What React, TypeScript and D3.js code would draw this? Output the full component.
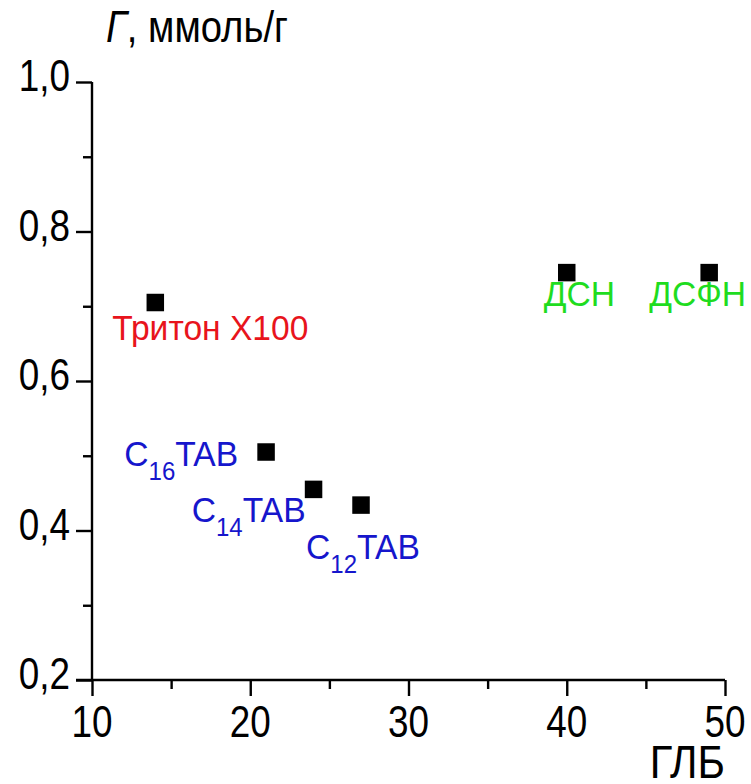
import React, { useEffect, useRef } from "react";
import * as d3 from "d3";

// HLB values and adsorption (mmol/g)
const names = ["Тритон X100", "C16TAB", "C14TAB", "C12TAB", "ДСН", "ДСФН"];
const hlb = [14, 21, 24, 27, 40, 49];
const gamma = [0.705, 0.505, 0.455, 0.434, 0.745, 0.745];
const groups = ["red", "blue", "blue", "blue", "green", "green"];
const xTicks = [10, 20, 30, 40, 50];
const yTicks = [0.2, 0.4, 0.6, 0.8, 1.0];

const colors = { red: "#e8141c", blue: "#1616cc", green: "#1fdc1f" };

// label placement relative to marker center: dx, dy (baseline), anchor
const labelPos = [
  [-43, 37, "start"],
  [-28, 14, "end"],
  [-8, 33, "end"],
  [-55, 54, "start"],
  [-23, 33, "start"],
  [-60, 33, "start"],
];

const FONT = "'Liberation Sans', Arial, sans-serif";

const App = () => {
  const svgRef = useRef<SVGSVGElement>(null);

  useEffect(() => {
    document.body.style.margin = "0";
    const width = 751;
    const height = 784;

    const svg = d3.select(svgRef.current);
    svg.selectAll("*").remove();
    svg.attr("width", width).attr("height", height).style("display", "block");

    const x = d3.scaleLinear().domain([10, 50]).range([92, 725]);
    const y = d3.scaleLinear().domain([0.2, 1.0]).range([680, 82]);

    const fmt = (v: number) => d3.format(".1f")(v).replace(".", ",");
    // text squeezed horizontally to look like the narrow font of the original
    const at = (px: number, py: number, sx = 0.82) => `translate(${px},${py}) scale(${sx},1)`;

    // y axis
    const yAxis = svg
      .append("g")
      .attr("transform", `translate(${x(10)},0)`)
      .call(
        d3
          .axisLeft(y)
          .tickValues(d3.range(0.2, 1.0001, 0.1))
          .tickSize(16)
          .tickSizeOuter(0)
          .tickFormat(() => "")
      );
    yAxis.selectAll(".tick line").attr("x2", (d: any, i: number) => (i % 2 === 0 ? -16 : -9));
    yAxis.selectAll("path, line").attr("stroke", "#000").attr("stroke-width", 2.4);
    yAxis.select(".domain").attr("d", `M0,${y(1.0)}V${y(0.2)}`);

    // x axis
    const xAxis = svg
      .append("g")
      .attr("transform", `translate(0,${y(0.2)})`)
      .call(
        d3
          .axisBottom(x)
          .tickValues(d3.range(10, 50.001, 5))
          .tickSize(16)
          .tickSizeOuter(0)
          .tickFormat(() => "")
      );
    xAxis.selectAll(".tick line").attr("y2", (d: any, i: number) => (i % 2 === 0 ? 16 : 9));
    xAxis.selectAll("path, line").attr("stroke", "#000").attr("stroke-width", 2.4);
    xAxis.select(".domain").attr("d", `M${x(10) - 16},0H${x(50)}`);

    // tick labels
    svg
      .append("g")
      .selectAll("text")
      .data(yTicks)
      .enter()
      .append("text")
      .attr("transform", (d) => at(70, y(d) + 9))
      .attr("text-anchor", "end")
      .style("font-family", FONT)
      .style("font-size", "45px")
      .text((d) => fmt(d));

    svg
      .append("g")
      .selectAll("text")
      .data(xTicks)
      .enter()
      .append("text")
      .attr("transform", (d) => at(x(d), 737))
      .attr("text-anchor", "middle")
      .style("font-family", FONT)
      .style("font-size", "45px")
      .text((d) => d);

    // axis titles
    const yTitle = svg
      .append("text")
      .attr("transform", at(106, 42, 0.87))
      .style("font-family", FONT)
      .style("font-size", "44px");
    yTitle.append("tspan").style("font-style", "italic").text("Г");
    yTitle.append("tspan").text(", ммоль/г");

    svg
      .append("text")
      .attr("transform", at(725, 778, 0.91))
      .attr("text-anchor", "end")
      .style("font-family", FONT)
      .style("font-size", "46px")
      .text("ГЛБ");

    // markers
    const s = 17.5;
    svg
      .append("g")
      .selectAll("rect")
      .data(hlb)
      .enter()
      .append("rect")
      .attr("x", (d) => x(d) - s / 2)
      .attr("y", (d, i) => y(gamma[i]) - s / 2)
      .attr("width", s)
      .attr("height", s)
      .attr("fill", "#000");

    // labels
    const labels = svg
      .append("g")
      .selectAll("text")
      .data(names)
      .enter()
      .append("text")
      .attr("transform", (d, i) =>
        at(x(hlb[i]) + (labelPos[i][0] as number), y(gamma[i]) + (labelPos[i][1] as number), 0.96)
      )
      .attr("text-anchor", (d, i) => labelPos[i][2] as string)
      .attr("fill", (d, i) => colors[groups[i]])
      .style("font-family", FONT)
      .style("font-size", "35px");

    labels.each(function (d) {
      const t = d3.select(this);
      const m = d.match(/^C(\d+)(.*)$/);
      if (m) {
        t.append("tspan").text("C");
        t.append("tspan").attr("dy", 14).style("font-size", "25px").text(m[1]);
        t.append("tspan").attr("dy", -14).text(m[2]);
      } else {
        t.text(d);
      }
    });
  }, []);

  return <svg ref={svgRef}></svg>;
};

export default App;
